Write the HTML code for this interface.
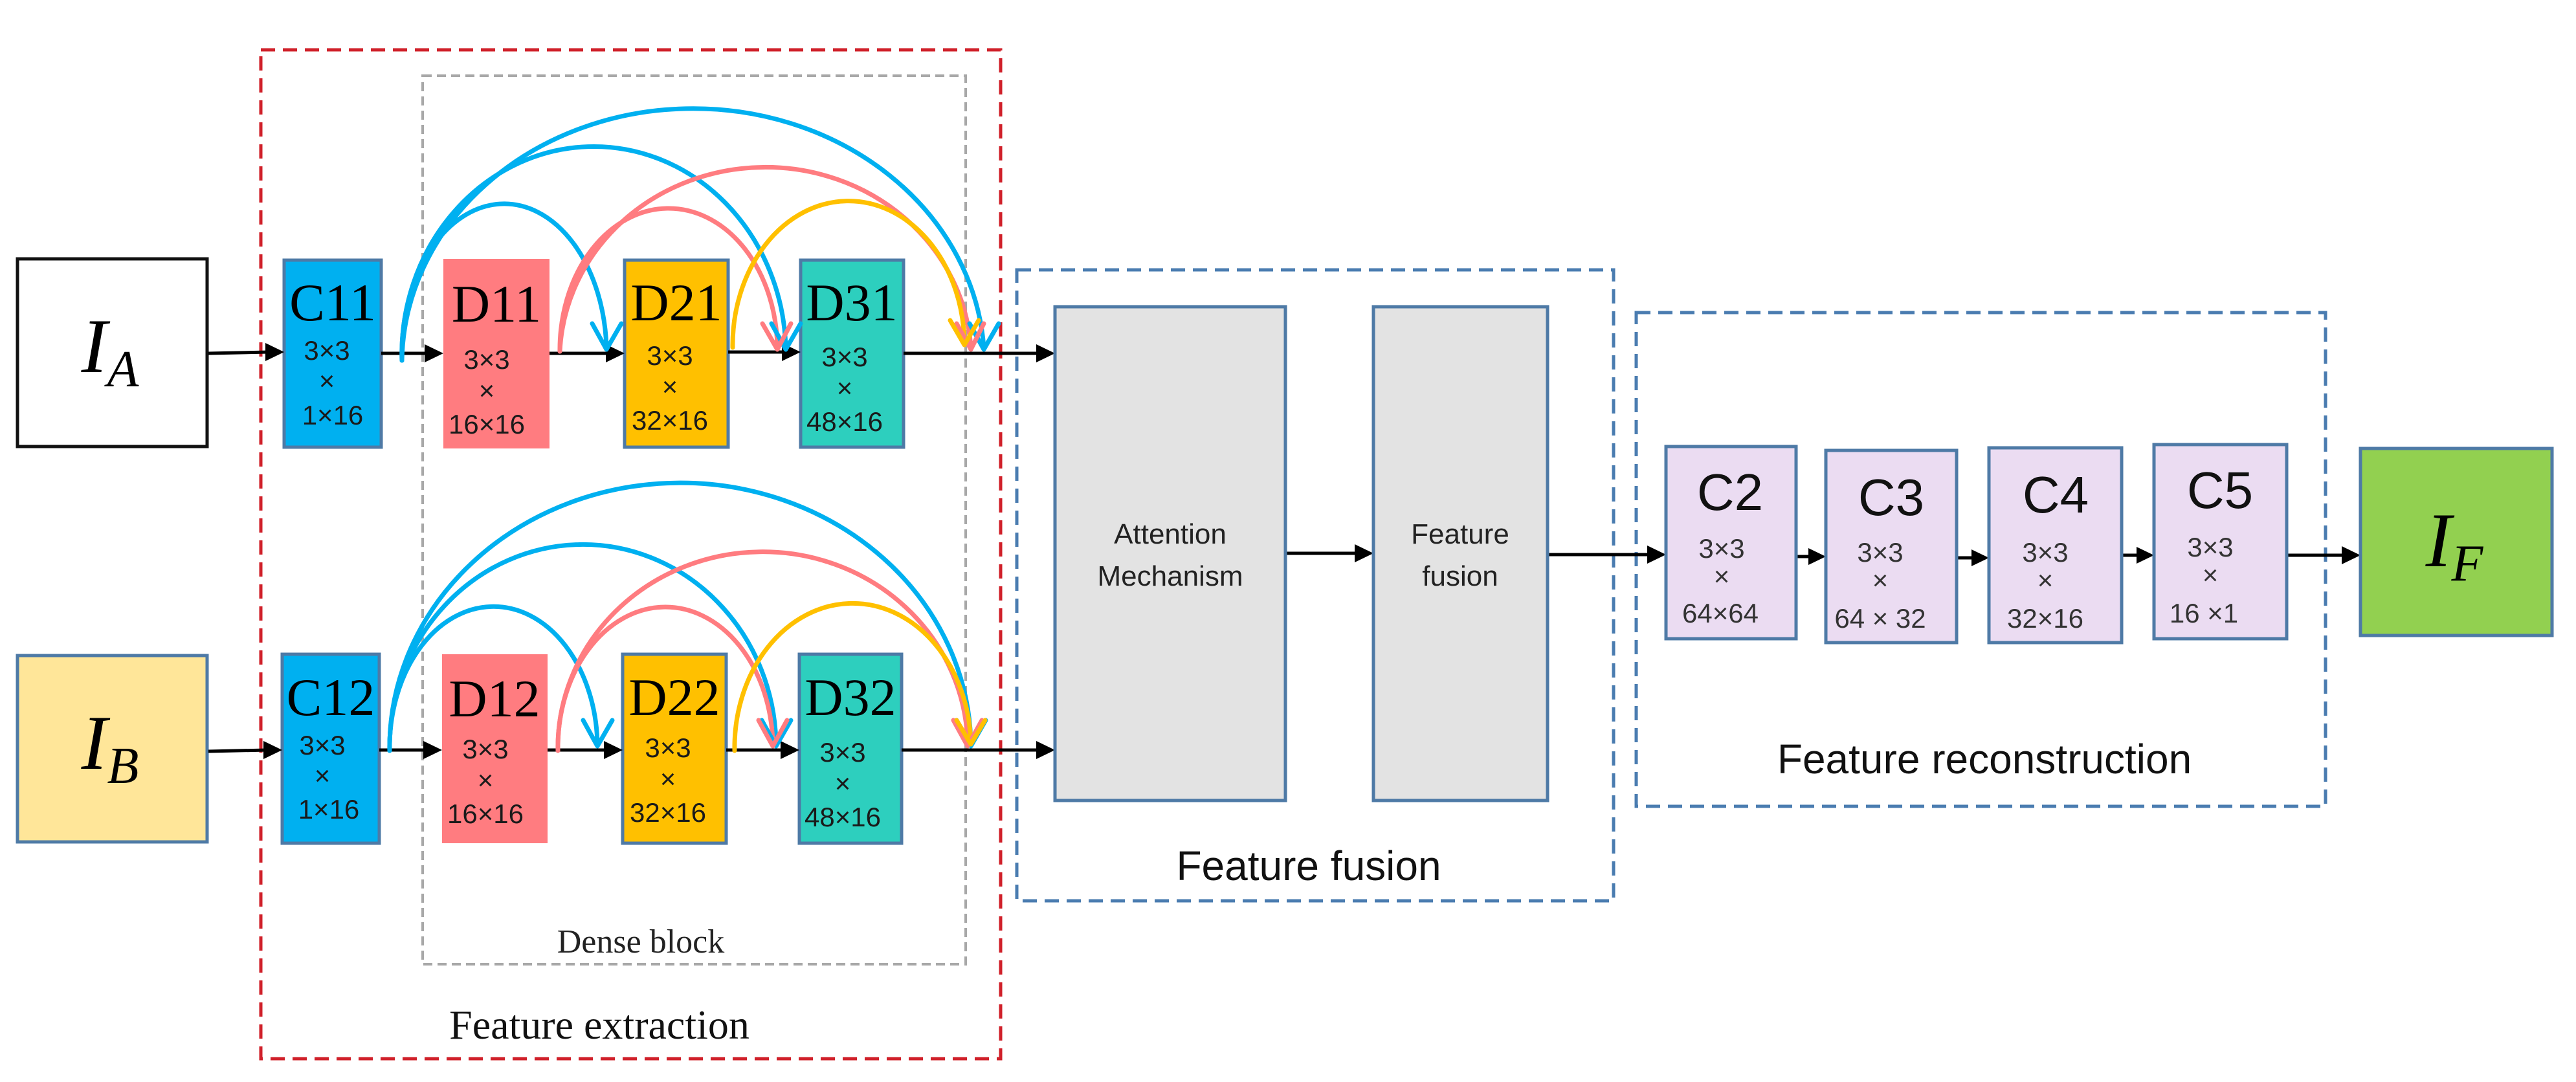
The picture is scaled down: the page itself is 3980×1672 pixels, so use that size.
<!DOCTYPE html>
<html><head><meta charset="utf-8"><style>
html,body{margin:0;padding:0;background:#fff}
svg{display:block}
.s{font-family:"Liberation Serif",serif}
.n{font-family:"Liberation Sans Narrow","Liberation Sans",sans-serif}
</style></head><body>
<svg width="3980" height="1672" viewBox="0 0 3980 1672" xmlns="http://www.w3.org/2000/svg">
<defs>
<marker id="ah" markerWidth="10" markerHeight="10" refX="9" refY="5" orient="auto" markerUnits="userSpaceOnUse" viewBox="0 0 10 10">
</marker>
</defs>
<!-- dashed containers -->
<rect x="403" y="77" width="1143" height="1559" fill="none" stroke="#d0202a" stroke-width="5" stroke-dasharray="22,12"/>
<rect x="653" y="117" width="839" height="1373" fill="none" stroke="#a8a8a8" stroke-width="4" stroke-dasharray="14,8"/>
<rect x="1571" y="417" width="922" height="975" fill="none" stroke="#4a7cb0" stroke-width="5" stroke-dasharray="22,12"/>
<rect x="2528" y="483" width="1065" height="763" fill="none" stroke="#4a7cb0" stroke-width="5" stroke-dasharray="22,12"/>

<!-- inputs -->
<rect x="27" y="400" width="293" height="290" fill="#fff" stroke="#111" stroke-width="5"/>
<text x="170" y="575" class="s" font-size="120" font-style="italic" text-anchor="middle">I<tspan font-size="80" dy="22">A</tspan></text>
<rect x="27" y="1013" width="293" height="288" fill="#ffe699" stroke="#4e7aa6" stroke-width="5"/>
<text x="170" y="1188" class="s" font-size="120" font-style="italic" text-anchor="middle">I<tspan font-size="80" dy="22">B</tspan></text>

<!-- row boxes -->
<g stroke="#4e7aa6" stroke-width="5">
<rect x="439" y="402" width="150" height="289" fill="#00b0f0"/>
<rect x="685" y="400" width="164" height="293" fill="#ff7c80" stroke="none"/>
<rect x="965" y="402" width="160" height="289" fill="#ffc000"/>
<rect x="1237" y="402" width="159" height="289" fill="#2dcfbe"/>
<rect x="436" y="1011" width="150" height="292" fill="#00b0f0"/>
<rect x="683" y="1011" width="163" height="292" fill="#ff7c80" stroke="none"/>
<rect x="962" y="1011" width="160" height="292" fill="#ffc000"/>
<rect x="1235" y="1011" width="158" height="292" fill="#2dcfbe"/>
</g>
<g class="s" font-size="82" text-anchor="middle" fill="#000">
<text x="514" y="495">C11</text><text x="767" y="497">D11</text><text x="1045" y="495">D21</text><text x="1316" y="495">D31</text>
<text x="511" y="1105">C12</text><text x="764" y="1107">D12</text><text x="1042" y="1105">D22</text><text x="1314" y="1105">D32</text>
</g>
<g class="n" font-size="42" text-anchor="middle" fill="#1a1a1a">
<text x="505" y="556">3×3</text><text x="505" y="603">×</text><text x="514" y="656">1×16</text>
<text x="752" y="570">3×3</text><text x="752" y="618">×</text><text x="752" y="670">16×16</text>
<text x="1035" y="564">3×3</text><text x="1035" y="612">×</text><text x="1035" y="664">32×16</text>
<text x="1305" y="566">3×3</text><text x="1305" y="614">×</text><text x="1305" y="666">48×16</text>
<text x="498" y="1166">3×3</text><text x="498" y="1213">×</text><text x="508" y="1265">1×16</text>
<text x="750" y="1172">3×3</text><text x="750" y="1220">×</text><text x="750" y="1272">16×16</text>
<text x="1032" y="1170">3×3</text><text x="1032" y="1218">×</text><text x="1032" y="1270">32×16</text>
<text x="1302" y="1177">3×3</text><text x="1302" y="1225">×</text><text x="1302" y="1277">48×16</text>
</g>

<!-- straight arrows -->
<g stroke="#000" stroke-width="5" fill="none">
<line x1="322" y1="546" x2="415" y2="544"/><line x1="589" y1="546" x2="660" y2="546"/>
<line x1="849" y1="546" x2="940" y2="546"/><line x1="1125" y1="544" x2="1212" y2="544"/>
<line x1="1396" y1="546" x2="1605" y2="546"/>
<line x1="322" y1="1161" x2="412" y2="1159"/><line x1="586" y1="1159" x2="658" y2="1159"/>
<line x1="846" y1="1159" x2="937" y2="1159"/><line x1="1122" y1="1159" x2="1210" y2="1159"/>
<line x1="1393" y1="1159" x2="1605" y2="1159"/>
<line x1="1986" y1="855" x2="2097" y2="855"/><line x1="2391" y1="857" x2="2550" y2="857"/>
<line x1="2775" y1="860" x2="2797" y2="860"/><line x1="3023" y1="862" x2="3049" y2="862"/>
<line x1="3278" y1="858" x2="3304" y2="858"/><line x1="3533" y1="858" x2="3622" y2="858"/>
</g>
<g fill="#000">
<polygon points="439,544 410,530 410,558"/><polygon points="685,546 656,532 656,560"/>
<polygon points="965,546 936,532 936,560"/><polygon points="1237,544 1208,530 1208,558"/>
<polygon points="1630,546 1601,532 1601,560"/>
<polygon points="436,1159 407,1145 407,1173"/><polygon points="683,1159 654,1145 654,1173"/>
<polygon points="962,1159 933,1145 933,1173"/><polygon points="1235,1159 1206,1145 1206,1173"/>
<polygon points="1630,1159 1601,1145 1601,1173"/>
<polygon points="2122,855 2093,841 2093,869"/><polygon points="2574,857 2545,843 2545,871"/>
<polygon points="2821,860 2794,847 2794,873"/><polygon points="3073,862 3046,849 3046,875"/>
<polygon points="3328,858 3301,845 3301,871"/><polygon points="3647,858 3618,844 3618,872"/>
</g>

<!-- arcs row 1 -->
<g fill="none" stroke-width="7" stroke-linecap="round">
<path d="M621,557 A158,232 0 0 1 937,537" stroke="#00b0f0"/>
<path d="M621,557 A296,320 0 0 1 1214,537" stroke="#00b0f0"/>
<path d="M621,557 A450,395 0 0 1 1520,537" stroke="#00b0f0"/>
<path d="M865,543 A168,218 0 0 1 1201,537" stroke="#ff7c80"/>
<path d="M865,543 A318,298 0 0 1 1500,537" stroke="#ff7c80"/>
<path d="M1132,537 A179,223 0 0 1 1490,530" stroke="#ffc000"/>
<path d="M602,1160 A160,217 0 0 1 923,1150" stroke="#00b0f0"/>
<path d="M602,1160 A298,313 0 0 1 1199,1150" stroke="#00b0f0"/>
<path d="M602,1160 A449,409 0 0 1 1500,1150" stroke="#00b0f0"/>
<path d="M862,1160 A166,217 0 0 1 1194,1150" stroke="#ff7c80"/>
<path d="M862,1160 A316,302 0 0 1 1495,1150" stroke="#ff7c80"/>
<path d="M1135,1160 A182,222 0 0 1 1500,1150" stroke="#ffc000"/>
</g>
<!-- chevron heads -->
<g fill="none" stroke-width="7" stroke-linecap="round" stroke-linejoin="round">
<polyline points="915,500 937,540 960,500" stroke="#00b0f0"/>
<polyline points="1192,500 1214,540 1237,500" stroke="#00b0f0"/>
<polyline points="1498,500 1520,540 1543,500" stroke="#00b0f0"/>
<polyline points="1178,500 1201,540 1222,500" stroke="#ff7c80"/>
<polyline points="1478,500 1500,540 1520,500" stroke="#ff7c80"/>
<polyline points="1468,495 1490,533 1512,495" stroke="#ffc000"/>
<polyline points="901,1113 923,1153 946,1113" stroke="#00b0f0"/>
<polyline points="1177,1113 1199,1153 1222,1113" stroke="#00b0f0"/>
<polyline points="1478,1113 1500,1153 1523,1113" stroke="#00b0f0"/>
<polyline points="1172,1113 1194,1153 1216,1113" stroke="#ff7c80"/>
<polyline points="1473,1113 1495,1153 1517,1113" stroke="#ff7c80"/>
<polyline points="1478,1113 1500,1150 1522,1113" stroke="#ffc000"/>
</g>

<!-- fusion -->
<rect x="1630" y="474" width="356" height="763" fill="#e3e3e3" stroke="#4e7aa6" stroke-width="5"/>
<rect x="2122" y="474" width="269" height="763" fill="#e3e3e3" stroke="#4e7aa6" stroke-width="5"/>
<g class="n" font-size="44" text-anchor="middle" fill="#222">
<text x="1808" y="840">Attention</text><text x="1808" y="905">Mechanism</text>
<text x="2256" y="840">Feature</text><text x="2256" y="905">fusion</text>
</g>

<!-- recon -->
<g fill="#ebdcf2" stroke="#4e7aa6" stroke-width="5">
<rect x="2574" y="690" width="201" height="297"/>
<rect x="2821" y="696" width="202" height="297"/>
<rect x="3073" y="692" width="205" height="301"/>
<rect x="3328" y="687" width="205" height="300"/>
</g>
<rect x="3647" y="693" width="296" height="289" fill="#92d050" stroke="#4e7aa6" stroke-width="5"/>
<g class="n" font-size="80" text-anchor="middle" fill="#111">
<text x="2673" y="788">C2</text><text x="2922" y="796">C3</text><text x="3176" y="792">C4</text><text x="3430" y="785">C5</text>
</g>
<g class="n" font-size="42" text-anchor="middle" fill="#333">
<text x="2660" y="862">3×3</text><text x="2660" y="905">×</text><text x="2658" y="962">64×64</text>
<text x="2905" y="868">3×3</text><text x="2905" y="911">×</text><text x="2905" y="970">64 × 32</text>
<text x="3160" y="868">3×3</text><text x="3160" y="911">×</text><text x="3160" y="970">32×16</text>
<text x="3415" y="860">3×3</text><text x="3415" y="903">×</text><text x="3405" y="962">16 ×1</text>
</g>
<text x="3792" y="875" class="s" font-size="120" font-style="italic" text-anchor="middle">I<tspan font-size="80" dy="22">F</tspan></text>

<!-- labels -->
<text x="990" y="1472" class="s" font-size="52" text-anchor="middle" fill="#222">Dense block</text>
<text x="926" y="1605" class="s" font-size="64" text-anchor="middle" fill="#111">Feature extraction</text>
<text x="2022" y="1360" class="n" font-size="64" text-anchor="middle" fill="#111">Feature fusion</text>
<text x="3066" y="1195" class="n" font-size="64" text-anchor="middle" fill="#111">Feature reconstruction</text>
</svg>
</body></html>
